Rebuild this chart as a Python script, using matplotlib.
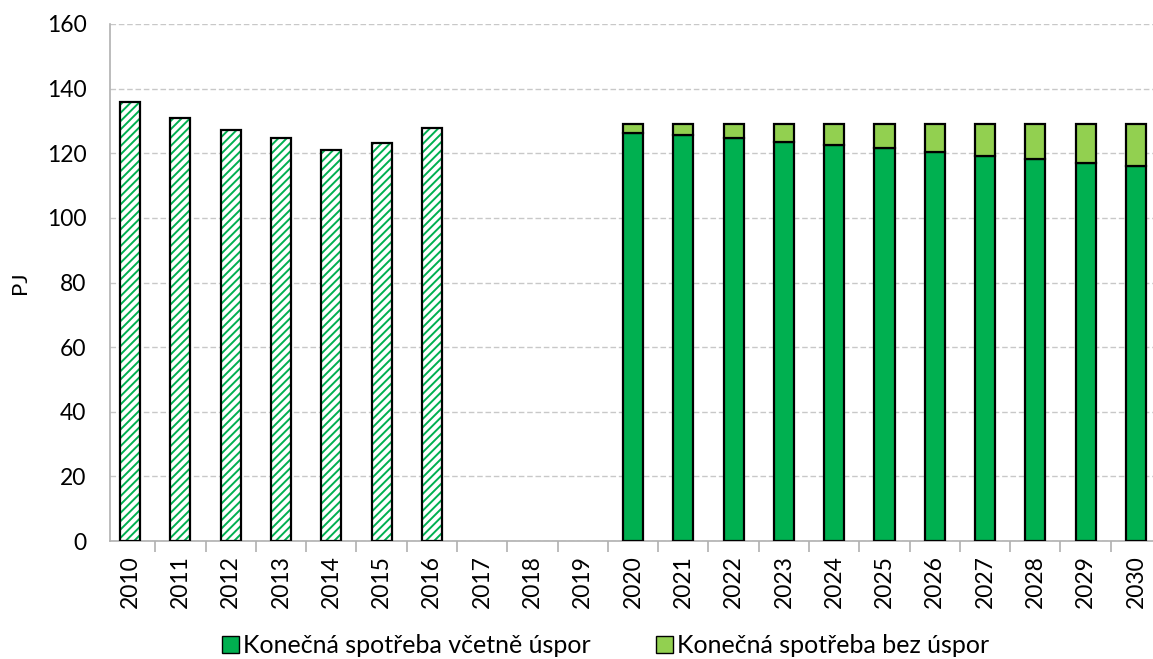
import numpy as np
import matplotlib.pyplot as plt
from matplotlib.patches import Patch

plt.rcParams['font.family'] = ['Lato', 'DejaVu Sans']
plt.rcParams['hatch.linewidth'] = 1.4

years = [str(y) for y in range(2010, 2031)]
# historical final consumption 2010-2016
historie = [135.9, 130.9, 127.1, 124.7, 121.0, 123.2, 127.8]
# projection 2020-2030
vcetne_uspor = [126.4, 125.5, 124.6, 123.6, 122.6, 121.5, 120.3, 119.2, 118.1, 117.0, 115.9]
bez_uspor = [129.0, 129.0, 129.0, 129.0, 129.0, 129.0, 129.0, 129.0, 129.0, 129.0, 129.0]

dark = '#00B050'
light = '#92D050'

fig = plt.figure(figsize=(11.53, 6.59), dpi=100)
ax = fig.add_axes([110 / 1153, 1 - 541 / 659, 1 - 110 / 1153, 517 / 659])

x = np.arange(len(years))
w = 0.4
xh = x[:len(historie)]
xp = x[-len(vcetne_uspor):]
rozdil = np.array(bez_uspor) - np.array(vcetne_uspor)

ax.bar(xh, historie, w, color='white', edgecolor=dark, hatch='////', linewidth=0, zorder=3)
ax.bar(xh, historie, w, fill=False, edgecolor='black', linewidth=1.6, zorder=4)
ax.bar(xp, vcetne_uspor, w, color=dark, edgecolor='black', linewidth=1.6, zorder=3)
ax.bar(xp, rozdil, w, bottom=vcetne_uspor, color=light, edgecolor='black', linewidth=1.6, zorder=3)

ax.set_ylim(0, 160)
ax.set_yticks(range(0, 161, 20))
ax.set_xlim(-0.4, 20.34)
ax.grid(axis='y', color='#c8c8c8', linestyle=(0, (4, 2)), linewidth=1, zorder=0)
ax.set_axisbelow(True)
for s in ['top', 'right']:
    ax.spines[s].set_visible(False)
ax.spines['left'].set_color('#b0b0b0')
ax.spines['bottom'].set_color('#b0b0b0')
ax.spines['left'].set_linewidth(1.2)
ax.spines['bottom'].set_linewidth(1.2)

ax.set_xticks(x)
ax.set_xticklabels(years, rotation=90, fontsize=16.5)
ax.tick_params(axis='x', length=0, pad=10)
ax.set_xticks(x[:-1] + 0.5, minor=True)
ax.tick_params(axis='x', which='minor', length=8, color='#b0b0b0', width=1.2)
ax.tick_params(axis='y', length=0, labelsize=16.5, pad=17)
fig.text(20 / 1153, 1 - 283 / 659, 'PJ', rotation=90, fontsize=16, ha='center', va='center')

handles = [Patch(facecolor=dark, edgecolor='black', linewidth=1),
           Patch(facecolor=light, edgecolor='black', linewidth=1)]
fig.legend(handles, ['Konečná spotřeba včetně úspor', 'Konečná spotřeba bez úspor'],
           loc='center', bbox_to_anchor=(0.525, 0.02), ncol=2, frameon=False,
           fontsize=18, handlelength=0.7, handleheight=0.7, handletextpad=0.15,
           columnspacing=2.6)

fig.savefig('out.png', dpi=100)
